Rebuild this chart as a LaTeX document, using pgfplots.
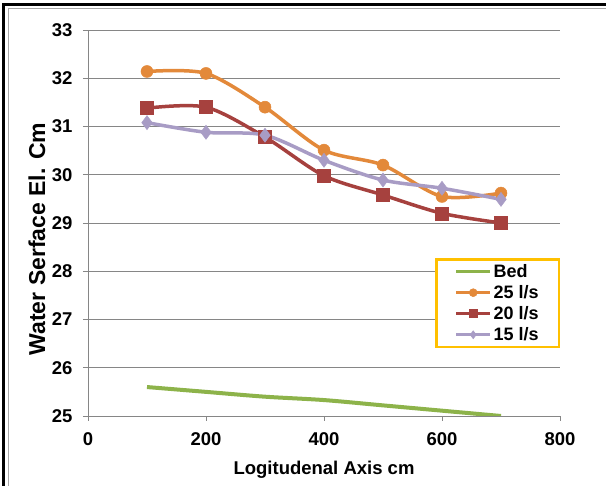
\documentclass[border=0pt]{standalone}
\usepackage{pgfplots}
\pgfplotsset{compat=1.18}
\usepackage{fontspec}
\setmainfont{Liberation Sans}
\definecolor{cOr}{RGB}{227,137,58}
\definecolor{cRd}{RGB}{166,65,62}
\definecolor{cPu}{RGB}{168,156,197}
\definecolor{cGr}{RGB}{141,179,74}
\definecolor{cGold}{RGB}{255,192,0}
\definecolor{cGrid}{RGB}{134,134,134}
\begin{document}
\begin{tikzpicture}
\path[use as bounding box] (0,0) rectangle (606pt,486pt);
\fill[white] (0,0) rectangle (606pt,486pt);
\draw[black,line width=2.5pt] (3.5pt,0) -- (3.5pt,481.5pt) -- (606pt,481.5pt);
\draw[gray!70,line width=0.8pt] (8pt,0) -- (8pt,478pt) -- (606pt,478pt);
\begin{axis}[
  at={(88pt,70pt)}, anchor=south west,
  scale only axis, width=472pt, height=386pt,
  xmin=0, xmax=800, ymin=25, ymax=33,
  xtick={0,200,...,800}, ytick={25,26,...,33},
  axis x line*=bottom, axis y line*=left,
  axis line style={cGrid, line width=0.8pt, -},
  ymajorgrids, grid style={cGrid, line width=0.8pt},
  tick style={cGrid, line width=0.8pt},
  tick align=outside, major tick length=5pt,
  /pgf/number format/assume math mode=true,
  ticklabel style={font=\fontsize{18.5}{20}\selectfont\bfseries},
  xticklabel style={yshift=-8pt},
  yticklabel style={xshift=-7pt},
  xlabel={Logitudenal Axis cm},
  ylabel={Water Serface El. Cm},
  xlabel style={font=\fontsize{18.5}{20}\selectfont\bfseries, at={(rel axis cs:0.5,0)}, anchor=center, yshift=-54pt},
  ylabel style={font=\fontsize{23}{25}\selectfont\bfseries, at={(rel axis cs:0,0.5)}, anchor=center, yshift=51pt, xshift=-16pt},
  legend style={at={(1,0.409)}, anchor=north east, draw=cGold, line width=2.5pt,
    font=\fontsize{18}{20}\selectfont\bfseries, inner xsep=18pt, inner ysep=3pt,
    row sep=2.5pt, /tikz/every even column/.append style={column sep=0pt}},
  legend cell align=left,
  legend image code/.code={
    \draw[#1, line width=3pt, mark repeat=2, mark phase=2, mark size=4pt] plot coordinates {(0pt,0pt) (17pt,0pt) (34pt,0pt)};},
]
\addplot[cGr, line width=4pt, smooth, tension=0.5, no markers] coordinates {
(100,25.6) (200,25.5) (300,25.4) (400,25.33) (500,25.22) (600,25.11) (700,25.0)};
\addlegendentry{Bed}
\addplot[cOr, line width=3.5pt, smooth, tension=0.5, mark=*, mark size=6pt, mark options={line width=0.5pt}] coordinates {
(100,32.14) (200,32.1) (300,31.4) (400,30.51) (500,30.2) (600,29.55) (700,29.62)};
\addlegendentry{25 l/s}
\addplot[cRd, line width=3.5pt, smooth, tension=0.5, mark=square*, mark size=6.5pt, mark options={line width=0.5pt}] coordinates {
(100,31.38) (200,31.4) (300,30.78) (400,29.98) (500,29.58) (600,29.2) (700,29.0)};
\addlegendentry{20 l/s}
\addplot[cPu, line width=3.5pt, smooth, tension=0.5, mark=diamond*, mark size=7pt, mark options={line width=0.5pt}] coordinates {
(100,31.08) (200,30.88) (300,30.82) (400,30.3) (500,29.89) (600,29.72) (700,29.49)};
\addlegendentry{15 l/s}
\end{axis}
\end{tikzpicture}
\end{document}
